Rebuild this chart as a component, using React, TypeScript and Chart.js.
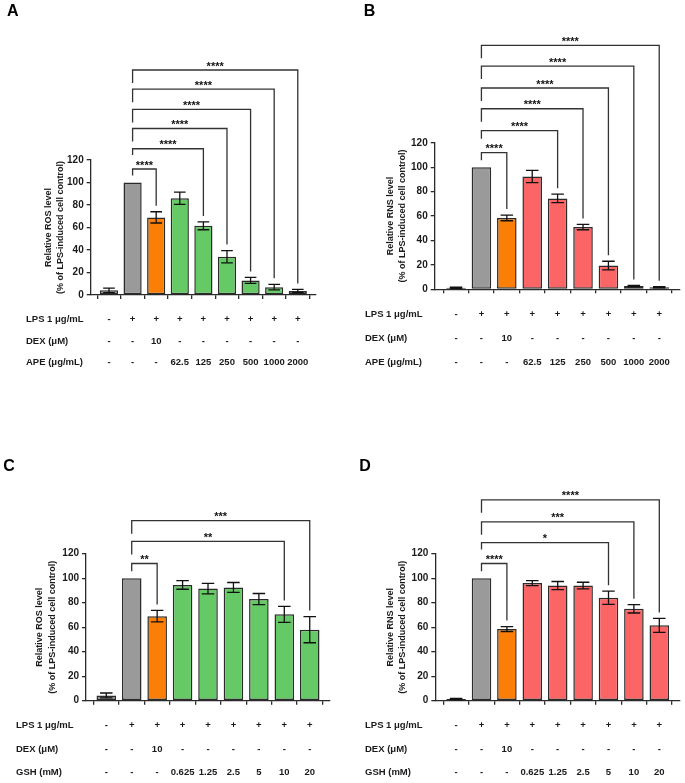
import React, { useEffect, useRef } from "react";
import { Chart, registerables } from "chart.js";

Chart.register(...registerables);

// ---------------- data ----------------
const lpsRow = ["-", "+", "+", "+", "+", "+", "+", "+", "+"];
const dexRow = ["-", "-", "10", "-", "-", "-", "-", "-", "-"];
const apeDoses = ["-", "-", "-", "62.5", "125", "250", "500", "1000", "2000"];
const gshDoses = ["-", "-", "-", "0.625", "1.25", "2.5", "5", "10", "20"];
const apeRowLabels = ["LPS 1 μg/mL", "DEX (μM)", "APE (μg/mL)"];
const gshRowLabels = ["LPS 1 μg/mL", "DEX (μM)", "GSH (mM)"];

const yTicks = [0, 20, 40, 60, 80, 100, 120];

const rosApeMeans = [4.2, 100, 69, 86, 61.5, 34, 13, 7, 3.5];
const rosApeErrors = [2, 0, 5, 5.5, 3.5, 5.5, 2.6, 2.5, 1.5];
const rnsApeMeans = [1.3, 100, 58.5, 92.5, 74.5, 51, 19.5, 2.7, 1.6];
const rnsApeErrors = [0.5, 0, 2.3, 5, 3.5, 2.2, 3.5, 0.5, 0.5];
const rosGshMeans = [4.3, 100, 69, 94.5, 91.5, 92.5, 83, 70.5, 58];
const rosGshErrors = [2, 0, 4.7, 3.5, 4.3, 4, 4.5, 6.5, 10.7];
const rnsGshMeans = [1.4, 100, 58.5, 96, 94, 94, 84, 75, 61.5];
const rnsGshErrors = [0.5, 0, 2, 2, 3.3, 2.7, 5.4, 3.4, 5.7];

// significance brackets (from LPS group, index 1)
const apeBracketTargets = [2, 4, 5, 6, 7, 8];
const apeBracketLevels = [112, 130, 148, 165, 183, 200];
const rosApeStars = ["****", "****", "****", "****", "****", "****"];
const rnsApeStars = ["****", "****", "****", "****", "****", "****"];
const rosGshBracketTargets = [2, 7, 8];
const rosGshBracketLevels = [112, 130, 147];
const rosGshStars = ["**", "**", "***"];
const rnsGshBracketTargets = [2, 6, 7, 8];
const rnsGshBracketLevels = [112, 129, 146, 164];
const rnsGshStars = ["****", "*", "***", "****"];

// ---------------- styles ----------------
const GRAY = "#9a9a9a";
const ORANGE = "#fb7f06";
const GREEN = "#65c965";
const RED = "#fb6565";
const AX = "#2a2a2a";
const FONT = "'Liberation Sans', Arial, Helvetica, sans-serif";

const greenColors = [GRAY, GRAY, ORANGE, GREEN, GREEN, GREEN, GREEN, GREEN, GREEN];
const redColors = [GRAY, GRAY, ORANGE, RED, RED, RED, RED, RED, RED];

const panels = [
  {
    letter: "A", left: 0, top: 0, w: 342, h: 392,
    plot: { l: 90.7, r: 316, t: 160, b: 295 }, xMin: -0.775, xMax: 8.772,
    means: rosApeMeans, errors: rosApeErrors, colors: greenColors,
    targets: apeBracketTargets, levels: apeBracketLevels, stars: rosApeStars,
    yTitle: ["Relative ROS level", "(% of LPS-induced cell control)"], titleX: 48.3,
    rows: [lpsRow, dexRow, apeDoses], rowLabels: apeRowLabels, rowY: [319, 341, 362], labelX: 26,
    letterX: 7, letterY: 16,
  },
  {
    letter: "B", left: 342, top: 0, w: 343, h: 392,
    plot: { l: 92.7, r: 338, t: 142.9, b: 289.3 }, xMin: -0.839, xMax: 8.818,
    means: rnsApeMeans, errors: rnsApeErrors, colors: redColors,
    targets: apeBracketTargets, levels: apeBracketLevels, stars: rnsApeStars,
    yTitle: ["Relative RNS level", "(% of LPS-induced cell control)"], titleX: 48.3,
    rows: [lpsRow, dexRow, apeDoses], rowLabels: apeRowLabels, rowY: [314, 338, 362], labelX: 23,
    letterX: 21.7, letterY: 16,
  },
  {
    letter: "C", left: 0, top: 392, w: 342, h: 391,
    plot: { l: 86, r: 330, t: 161.7, b: 308.7 }, xMin: -0.798, xMax: 8.797,
    means: rosGshMeans, errors: rosGshErrors, colors: greenColors,
    targets: rosGshBracketTargets, levels: rosGshBracketLevels, stars: rosGshStars,
    yTitle: ["Relative ROS level", "(% of LPS-induced cell control)"], titleX: 40,
    rows: [lpsRow, dexRow, gshDoses], rowLabels: gshRowLabels, rowY: [333.7, 357, 380.7], labelX: 16,
    letterX: 3.3, letterY: 79,
  },
  {
    letter: "D", left: 342, top: 392, w: 343, h: 391,
    plot: { l: 93.3, r: 338, t: 161.7, b: 308.7 }, xMin: -0.819, xMax: 8.815,
    means: rnsGshMeans, errors: rnsGshErrors, colors: redColors,
    targets: rnsGshBracketTargets, levels: rnsGshBracketLevels, stars: rnsGshStars,
    yTitle: ["Relative RNS level", "(% of LPS-induced cell control)"], titleX: 48.3,
    rows: [lpsRow, dexRow, gshDoses], rowLabels: gshRowLabels, rowY: [333.7, 357, 380.7], labelX: 23,
    letterX: 17.3, letterY: 79,
  },
];

function makeConfig(p: any): any {
  const extras = {
    id: "extras" + p.letter,
    afterDatasetsDraw(chart: any) {
      const ctx = chart.ctx;
      const ys = chart.scales.y;
      const meta = chart.getDatasetMeta(0);
      ctx.save();
      ctx.strokeStyle = "#111";
      ctx.lineWidth = 1.3;
      p.means.forEach((m: number, i: number) => {
        const e = p.errors[i];
        if (!e) return;
        const bar = meta.data[i];
        const x = bar.x;
        const hw = bar.width * 0.32;
        const yt = ys.getPixelForValue(m + e);
        const yb = ys.getPixelForValue(m - e);
        ctx.beginPath();
        ctx.moveTo(x, yt);
        ctx.lineTo(x, yb);
        ctx.moveTo(x - hw, yt);
        ctx.lineTo(x + hw, yt);
        ctx.moveTo(x - hw, yb);
        ctx.lineTo(x + hw, yb);
        ctx.stroke();
      });
      ctx.restore();
    },
    afterDraw(chart: any) {
      const ctx = chart.ctx;
      const xs = chart.scales.x;
      const ys = chart.scales.y;
      ctx.save();
      // brackets
      ctx.strokeStyle = "#333";
      ctx.lineWidth = 1.3;
      ctx.font = `bold 11px ${FONT}`;
      const xL = xs.getPixelForValue(1);
      const lpsTop = ys.getPixelForValue(p.means[1]);
      p.targets.forEach((t: number, k: number) => {
        const xR = xs.getPixelForValue(t);
        const yL = ys.getPixelForValue(p.levels[k]);
        const yR = ys.getPixelForValue(p.means[t] + p.errors[t]) - 6;
        let yLeft: number;
        if (k === 0) {
          yLeft = Math.min(yL + 13, lpsTop - 7);
        } else {
          const lowerY = ys.getPixelForValue(p.levels[k - 1]);
          const lowerMid = (xL + xs.getPixelForValue(p.targets[k - 1])) / 2;
          const sw = ctx.measureText(p.stars[k - 1]).width;
          yLeft = lowerMid - sw / 2 - xL < 6 ? lowerY - 14 : yL + 13;
        }
        ctx.beginPath();
        ctx.moveTo(xL, yLeft);
        ctx.lineTo(xL, yL);
        ctx.lineTo(xR, yL);
        ctx.lineTo(xR, yR);
        ctx.stroke();
        ctx.fillStyle = "#111";
        ctx.textAlign = "center";
        ctx.textBaseline = "alphabetic";
        ctx.fillText(p.stars[k], (xL + xR) / 2, yL - 0.5);
      });
      // table
      ctx.fillStyle = "#1a1a1a";
      ctx.font = `bold 9.5px ${FONT}`;
      ctx.textBaseline = "middle";
      p.rows.forEach((row: string[], r: number) => {
        const y = p.rowY[r];
        ctx.textAlign = "left";
        ctx.fillText(p.rowLabels[r], p.labelX, y);
        ctx.textAlign = "center";
        row.forEach((v: string, i: number) => {
          ctx.fillText(v, xs.getPixelForValue(i), y);
        });
      });
      // panel letter
      ctx.font = `bold 16px ${FONT}`;
      ctx.textAlign = "left";
      ctx.textBaseline = "alphabetic";
      ctx.fillStyle = "#000";
      ctx.fillText(p.letter, p.letterX, p.letterY);
      ctx.restore();
    },
  };

  return {
    type: "bar",
    data: {
      datasets: [
        {
          data: p.means.map((v: number, i: number) => ({ x: i, y: v })),
          backgroundColor: p.colors,
          borderColor: "#2b2b2b",
          borderWidth: 1.5,
          borderSkipped: false,
          barPercentage: 0.77,
          categoryPercentage: 1,
        },
      ],
    },
    options: {
      responsive: false,
      animation: false,
      devicePixelRatio: 1,
      events: [],
      layout: { padding: { left: 0, top: p.plot.t, right: p.w - p.plot.r, bottom: 0 } },
      plugins: { legend: { display: false }, tooltip: { enabled: false } },
      scales: {
        x: {
          type: "linear",
          min: p.xMin,
          max: p.xMax,
          offset: false,
          ticks: { display: false, stepSize: 1, includeBounds: false },
          grid: { display: true, drawOnChartArea: false, drawTicks: true, tickLength: 4, color: AX, lineWidth: 1.3 },
          border: { display: true, color: AX, width: 1.3 },
          afterFit: (s: any) => { s.height = p.h - p.plot.b; },
        },
        y: {
          min: 0,
          max: 120,
          afterBuildTicks: (s: any) => { s.ticks = yTicks.map((v) => ({ value: v })); },
          ticks: { font: { family: FONT, size: 10, weight: "bold" }, color: "#1a1a1a", padding: 3 },
          grid: { display: true, drawOnChartArea: false, drawTicks: true, tickLength: 4, color: AX, lineWidth: 1.3 },
          border: { display: true, color: AX, width: 1.3 },
          title: {
            display: true,
            text: p.yTitle,
            color: "#1a1a1a",
            font: { family: FONT, size: 9, weight: "bold", lineHeight: 1.41 },
            padding: { top: p.titleX - 6.35, bottom: 0 },
          },
          afterFit: (s: any) => { s.width = p.plot.l; },
        },
      },
    },
    plugins: [extras],
  };
}

function Panel({ p }: { p: any }) {
  const ref = useRef<HTMLCanvasElement>(null);
  useEffect(() => {
    const chart = new Chart(ref.current as HTMLCanvasElement, makeConfig(p));
    return () => chart.destroy();
  }, [p]);
  return (
    <canvas
      ref={ref}
      width={p.w}
      height={p.h}
      style={{ position: "absolute", left: p.left, top: p.top, width: p.w, height: p.h }}
    />
  );
}

export default function App() {
  useEffect(() => {
    document.body.style.margin = "0";
    document.body.style.background = "#fff";
  }, []);
  return (
    <div style={{ position: "relative", width: 685, height: 783, background: "#fff" }}>
      {panels.map((p) => (
        <Panel key={p.letter} p={p} />
      ))}
    </div>
  );
}
